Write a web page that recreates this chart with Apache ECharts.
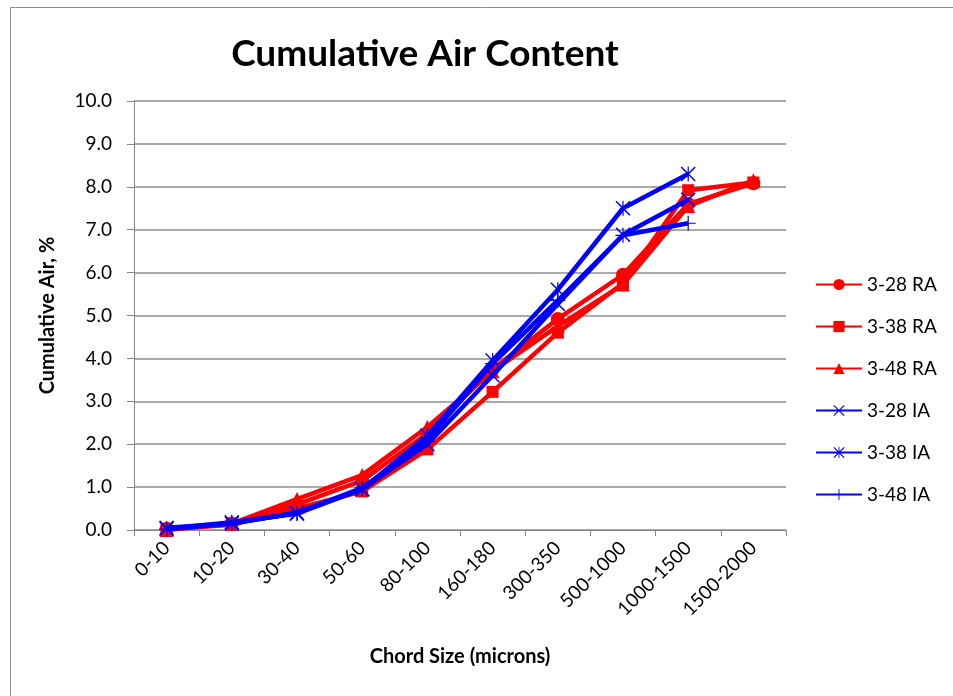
<!DOCTYPE html>
<html>
<head>
<meta charset="utf-8">
<script src="https://cdn.jsdelivr.net/npm/echarts@6/dist/echarts.min.js"></script>
<style>
  html, body { margin: 0; padding: 0; background: #fff; }
  #miGrafico { width: 953px; height: 696px; }
</style>
</head>
<body>
<div id="miGrafico"></div>
<script>
// datos
var categories = ['0-10', '10-20', '30-40', '50-60', '80-100', '160-180', '300-350', '500-1000', '1000-1500', '1500-2000'];
var ra328 = [0.03, 0.15, 0.60, 1.15, 2.25, 3.75, 4.92, 5.95, 7.60, 8.08];
var ra338 = [0.02, 0.12, 0.50, 0.90, 1.88, 3.22, 4.60, 5.75, 7.92, 8.10];
var ra348 = [0.00, 0.15, 0.72, 1.28, 2.40, 3.70, 4.75, 5.72, 7.55, 8.15];
var ia328 = [0.05, 0.15, 0.40, 0.95, 2.00, 3.60, 5.27, 6.88, 7.70];
var ia338 = [0.03, 0.18, 0.38, 0.95, 2.20, 3.95, 5.60, 7.50, 8.30];
var ia348 = [0.02, 0.15, 0.40, 0.98, 2.10, 3.88, 5.35, 6.87, 7.15];

var FONT = 'Lato, "Open Sans", sans-serif';

// marcadores de Excel (x, asterisco, cruz)
var symX = 'path://M0,0.7 L0.7,0 L5,4.3 L9.3,0 L10,0.7 L5.7,5 L10,9.3 L9.3,10 L5,5.7 L0.7,10 L0,9.3 L4.3,5 Z';
var symStar = 'path://M0,0.7 L0.7,0 L4.6,3.9 L4.6,0 L5.4,0 L5.4,3.9 L9.3,0 L10,0.7 L5.7,5 L10,9.3 L9.3,10 L5.4,6.1 L5.4,10 L4.6,10 L4.6,6.1 L0.7,10 L0,9.3 L4.3,5 Z';
var symPlus = 'path://M4.6,0 L5.4,0 L5.4,4.6 L10,4.6 L10,5.4 L5.4,5.4 L5.4,10 L4.6,10 L4.6,5.4 L0,5.4 L0,4.6 L4.6,4.6 Z';

function serie(nombre, datos, color, simbolo, tam) {
  return {
    name: nombre,
    type: 'line',
    data: datos,
    symbol: simbolo,
    symbolSize: tam,
    lineStyle: { color: color, width: 4.5 },
    itemStyle: { color: color },
    emphasis: { disabled: true },
    z: color === '#0000ff' ? 3 : 2
  };
}

var chartDom = document.getElementById('miGrafico');
var myChart = echarts.init(chartDom);

var option = {
  animation: false,
  textStyle: { fontFamily: FONT },
  title: {
    text: 'Cumulative Air Content',
    left: 420,
    top: 31,
    textAlign: 'center',
    textStyle: { fontFamily: FONT, fontSize: 37, fontWeight: 'bold', color: '#000' }
  },
  graphic: [{
    type: 'rect',
    left: 8, top: 5,
    shape: { width: 1000, height: 800 },
    style: { fill: 'none', stroke: '#8c8c8c', lineWidth: 1 },
    silent: true
  }],
  legend: {
    orient: 'vertical',
    left: 810,
    top: 270,
    itemWidth: 46,
    itemHeight: 14,
    itemGap: 23,
    textStyle: { fontFamily: FONT, fontSize: 19, color: '#000' },
    data: ['3-28 RA', '3-38 RA', '3-48 RA', '3-28 IA', '3-38 IA', '3-48 IA']
  },
  grid: { left: 134, right: 167, top: 101, bottom: 166 },
  xAxis: {
    type: 'category',
    data: categories,
    boundaryGap: true,
    name: 'Chord Size (microns)',
    nameLocation: 'middle',
    nameGap: 117,
    nameTextStyle: { fontFamily: FONT, fontSize: 20, fontWeight: 'bold', color: '#000' },
    axisLine: { lineStyle: { color: '#868686', width: 1 } },
    axisTick: { show: true, length: 6, alignWithLabel: false, lineStyle: { color: '#868686' } },
    axisLabel: { rotate: 45, fontFamily: FONT, fontSize: 19, color: '#000', margin: 15, interval: 0 }
  },
  yAxis: {
    type: 'value',
    min: 0,
    max: 10,
    interval: 1,
    name: 'Cumulative Air, %',
    nameLocation: 'middle',
    nameGap: 76,
    nameTextStyle: { fontFamily: FONT, fontSize: 20, fontWeight: 'bold', color: '#000' },
    axisLine: { show: true, lineStyle: { color: '#868686', width: 1 } },
    axisTick: { show: true, length: 7, lineStyle: { color: '#868686' } },
    axisLabel: { fontFamily: FONT, fontSize: 19, color: '#000', margin: 22,
      formatter: function (v) { return v.toFixed(1); } },
    splitLine: { lineStyle: { color: '#8c8c8c', width: 1.5 } }
  },
  series: [
    serie('3-28 RA', ra328, '#ff0000', 'circle', 14),
    serie('3-38 RA', ra338, '#ff0000', 'rect', 12),
    serie('3-48 RA', ra348, '#ff0000', 'triangle', 14),
    serie('3-28 IA', ia328, '#0000ff', symX, 15),
    serie('3-38 IA', ia338, '#0000ff', symStar, 15),
    serie('3-48 IA', ia348, '#0000ff', symPlus, 15)
  ]
};

myChart.setOption(option);

window.addEventListener('resize', function () {
  myChart.resize();
});
</script>
</body>
</html>
